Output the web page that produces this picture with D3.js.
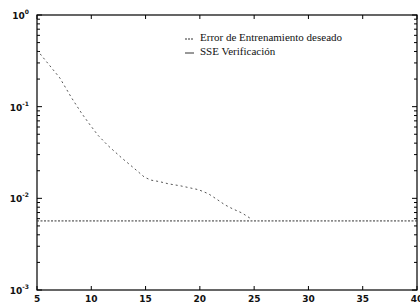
<!DOCTYPE html>
<html>
<head>
<meta charset="utf-8">
<script src="https://cdn.jsdelivr.net/npm/d3@7"></script>
<style>
    body { margin: 0; background: #fff; }
    svg { display: block; }
    .tick-label { font-family: "DejaVu Sans", sans-serif; font-size: 9px; font-weight: bold; fill: #111; }
    .legend text { font-family: "Liberation Serif", serif; font-size: 11px; fill: #111; }
</style>
</head>
<body>
<div id="chart"></div>
<script>

var epochs = [5, 5.9, 7.1, 8.2, 9.1, 9.9, 10.6, 11.5, 12.8, 13.8, 14.9, 15.5, 16.3, 17.1, 18.2, 19.1, 19.9, 20.8, 21.6, 22.3, 23.0, 23.9, 24.6];
var sse = [0.415, 0.307, 0.206, 0.124, 0.085, 0.063, 0.049, 0.038, 0.0276, 0.022, 0.017, 0.0158, 0.0152, 0.0144, 0.0137, 0.0130, 0.0124, 0.0112, 0.0097, 0.0085, 0.0077, 0.0069, 0.0061];
var target = 0.00567;
var xTicks = [5, 10, 15, 20, 25, 30, 35, 40];
var yDecades = [0, -1, -2, -3];
var legendLabels = ["Error de Entrenamiento deseado", "SSE Verificación"];

var width = 420
    , height = 307
    , margin = {left: 37, top: 15, right: 3, bottom: 17}
    , w = width - margin.left - margin.right
    , h = height - margin.top - margin.bottom
    ;

var svg = d3.select("#chart")
    .append("svg")
    .attr("width", width)
    .attr("height", height);

var g = svg.append("g")
    .attr("transform", "translate(" + margin.left + "," + margin.top + ")");

var x = d3.scaleLinear()
    .domain([5, 40])
    .range([0, w]);

var y = d3.scaleLog()
    .domain([1e-3, 1])
    .range([h, 0]);

// minor log ticks
var minor = [];
yDecades.slice(1).forEach(function(e) {
    for (var k = 2; k <= 9; k++) minor.push(k * Math.pow(10, e));
});

[[0, 3], [w, w - 3]].forEach(function(side) {
    g.append("g").selectAll("line")
        .data(minor)
        .enter().append("line")
        .attr("x1", side[0]).attr("x2", side[1])
        .attr("y1", function(d) { return y(d); })
        .attr("y2", function(d) { return y(d); })
        .attr("stroke", "#000");
});

[[0, 5], [w, w - 5]].forEach(function(side) {
    g.append("g").selectAll("line")
        .data(yDecades)
        .enter().append("line")
        .attr("x1", side[0]).attr("x2", side[1])
        .attr("y1", function(d) { return y(Math.pow(10, d)); })
        .attr("y2", function(d) { return y(Math.pow(10, d)); })
        .attr("stroke", "#000");
});

[[h, h - 4], [0, 4]].forEach(function(side) {
    g.append("g").selectAll("line")
        .data(xTicks)
        .enter().append("line")
        .attr("x1", function(d) { return x(d); })
        .attr("x2", function(d) { return x(d); })
        .attr("y1", side[0]).attr("y2", side[1])
        .attr("stroke", "#000");
});

// frame
g.append("rect")
    .attr("width", w)
    .attr("height", h)
    .attr("fill", "none")
    .attr("stroke", "#000")
    .attr("stroke-width", 1.2);

// tick labels
g.selectAll(".xlabel")
    .data(xTicks)
    .enter().append("text")
    .attr("class", "tick-label")
    .attr("x", function(d) { return x(d); })
    .attr("y", h + 12)
    .attr("text-anchor", "middle")
    .text(function(d) { return d; });

var yl = g.selectAll(".ylabel")
    .data(yDecades)
    .enter().append("text")
    .attr("class", "tick-label")
    .attr("x", -8)
    .attr("y", function(d) { return y(Math.pow(10, d)) + 4; })
    .attr("text-anchor", "end");

yl.append("tspan").text("10");
yl.append("tspan")
    .attr("dy", -5)
    .style("font-size", "6px")
    .text(function(d) { return d; });

// lines
var line = d3.line()
    .x(function(d) { return x(d[0]); })
    .y(function(d) { return y(d[1]); });

g.append("path")
    .datum([[5, target], [40, target]])
    .attr("fill", "none")
    .attr("stroke", "#333")
    .attr("stroke-width", 1)
    .attr("stroke-dasharray", "2,1.5")
    .attr("d", line);

g.append("path")
    .datum(epochs.map(function(e, i) { return [e, sse[i]]; }))
    .attr("fill", "none")
    .attr("stroke", "#555")
    .attr("stroke-width", 1)
    .attr("stroke-dasharray", "2,3")
    .attr("d", line);

// legend
var legend = g.append("g")
    .attr("class", "legend")
    .attr("transform", "translate(148,23)");

legend.selectAll("line")
    .data(legendLabels)
    .enter().append("line")
    .attr("x1", 0).attr("x2", 9)
    .attr("y1", function(d, i) { return i * 14 + 1; })
    .attr("y2", function(d, i) { return i * 14 + 1; })
    .attr("stroke", "#333")
    .attr("stroke-dasharray", function(d, i) { return i ? null : "2,1"; });

legend.selectAll("text")
    .data(legendLabels)
    .enter().append("text")
    .attr("x", 15)
    .attr("y", function(d, i) { return i * 14 + 3; })
    .text(function(d) { return d; });

</script>
</body>
</html>
